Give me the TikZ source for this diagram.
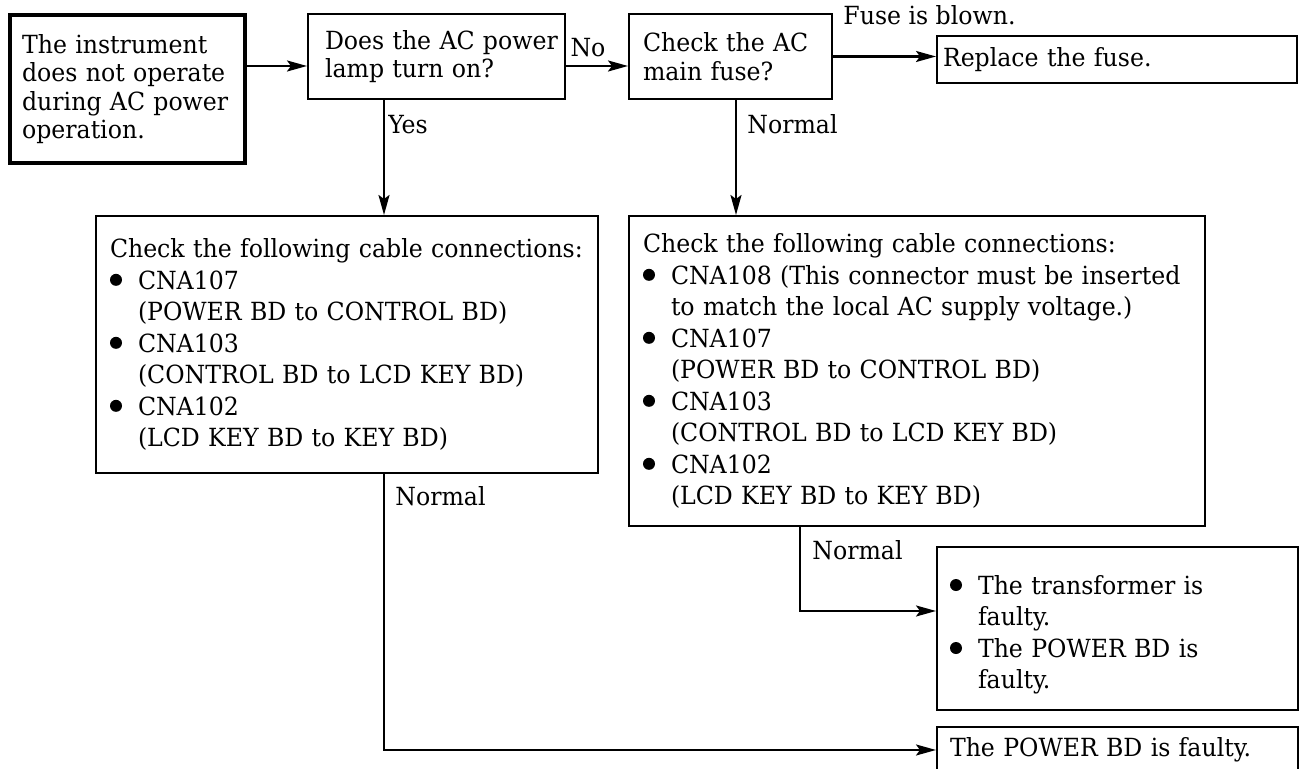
\documentclass[tikz,border=0pt]{standalone}
\usepackage{fontspec}
\setmainfont[FakeStretch=1.05]{DejaVu Serif Condensed}
\usetikzlibrary{arrows.meta}
\setlength\parindent{0pt}
\newcommand\dotmark{\raisebox{1.6pt}{\tikz\fill (0,0) circle (3pt);}}
\newcommand\bitem{\par\noindent\hangindent=14pt\hangafter=1\makebox[14pt][l]{\dotmark}}

\begin{document}
\begin{tikzpicture}[x=0.5pt, y=-0.5pt,
  box/.style={draw, line width=1pt, align=left, inner ysep=0pt},
  upper/.style={font=\fontsize{12.5}{14.25}\selectfont},
  lower/.style={font=\fontsize{12.5}{15.75}\selectfont},
  lbl/.style={font=\fontsize{12.5}{14.25}\selectfont, inner sep=0pt},
  flow/.style={line width=1.1pt, -{Stealth[length=10pt, width=5.5pt, inset=2pt]}}]

  \useasboundingbox (0,0) rectangle (1303,769);

  % top row
  \node[box, upper, line width=2.2pt, minimum width=117.25pt, minimum height=73.75pt,
        inner xsep=5.9pt, text width=105.4pt] (start) at (127.5,89)
    {The~instrument\\ does~not~operate\\ during~AC~power\\ operation.};
  \node[box, upper, minimum width=128.5pt, minimum height=42.5pt,
        inner xsep=8.5pt, text width=111.5pt] (lamp) at (436.5,56.5)
    {Does~the~AC~power\\ lamp~turn~on?};
  \node[box, upper, minimum width=101.5pt, minimum height=42.5pt,
        inner xsep=7pt, text width=87.5pt] (fuse) at (730.5,56.5)
    {Check~the~AC\\ main~fuse?};
  \node[box, upper, minimum width=180pt, minimum height=23.5pt,
        inner xsep=3pt, text width=174pt] (replace) at (1117,59.5)
    {Replace the fuse.};

  % cable checks
  \node[box, lower, minimum width=251pt, minimum height=128.5pt,
        inner xsep=7pt, text width=237pt] (cableA) at (347,344.5)
    {Check~the~following~cable~connections:
     \bitem CNA107\newline (POWER BD to CONTROL BD)
     \bitem CNA103\newline (CONTROL BD to LCD KEY BD)
     \bitem CNA102\newline (LCD KEY BD to KEY BD)\par};
  \node[box, lower, minimum width=288pt, minimum height=155pt,
        inner xsep=7pt, text width=274pt] (cableB) at (917,371)
    {Check the following cable connections:
     \bitem CNA108~(This~connector~must~be~inserted\newline to match the local AC supply voltage.)
     \bitem CNA107\newline (POWER BD to CONTROL BD)
     \bitem CNA103\newline (CONTROL BD to LCD KEY BD)
     \bitem CNA102\newline (LCD KEY BD to KEY BD)\par};

  % results
  \node[box, lower, minimum width=180.5pt, minimum height=81.5pt,
        inner xsep=6.5pt, text width=167.5pt] (faulty) at (1117.5,628.5)
    {\bitem The transformer is\newline faulty.
     \bitem The POWER BD is\newline faulty.\par};
  \node[box, lower, minimum width=180.5pt, minimum height=23pt,
        inner xsep=6.5pt, text width=167.5pt] (final) at (1117.5,750)
    {The POWER BD is faulty.};

  \coordinate (rowa) at (0,66);
  \coordinate (yesx) at (384,0);
  \coordinate (nrmx) at (736,0);
  \coordinate (rnx) at (800,0);
  \coordinate (tfy) at (0,611);

  \draw[flow] (start.east |- rowa) -- (lamp.west |- rowa);
  \draw[flow] (lamp.east |- rowa) -- (fuse.west |- rowa);
  \draw[flow] (fuse.east) -- (replace.west |- fuse.east);
  \draw[flow] (lamp.south -| yesx) -- (cableA.north -| yesx);
  \draw[flow] (fuse.south -| nrmx) -- (cableB.north -| nrmx);
  \draw[flow] (cableA.south -| yesx) |- (final.west);
  \draw[flow] (cableB.south -| rnx) |- (faulty.west |- tfy);

  \node[lbl, anchor=base] (no) at (588,57) {No};
  \node[lbl, anchor=base west] (blown) at (843,25) {Fuse is blown.};
  \node[lbl, anchor=base west] (yes) at (388,134) {Yes};
  \node[lbl, anchor=base west] (nrmA) at (747,134) {Normal};
  \node[lbl, anchor=base west] (nrmB) at (395,506) {Normal};
  \node[lbl, anchor=base west] (nrmC) at (812,560) {Normal};
\end{tikzpicture}
\end{document}
